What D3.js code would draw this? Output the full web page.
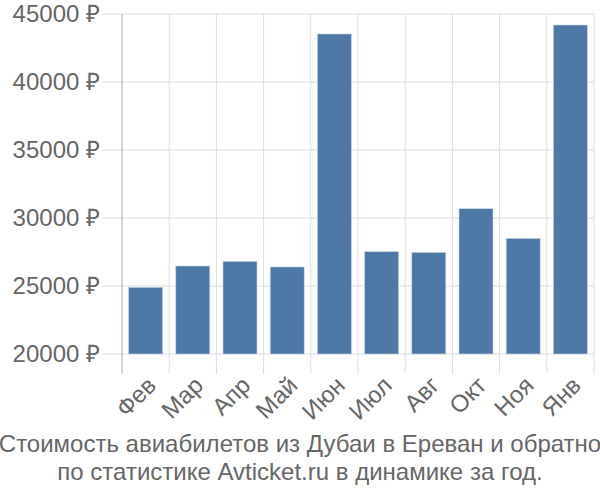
<!DOCTYPE html>
<html>
<head>
<meta charset="utf-8">
<script src="https://cdn.jsdelivr.net/npm/d3@7"></script>
<style>
  body { margin: 0; background: #fff; }
  text { font-family: "Liberation Sans", Arial, sans-serif; fill: #666; }
</style>
</head>
<body>
<div id="chart"></div>
<script>
// data
var months = ["Фев", "Мар", "Апр", "Май", "Июн", "Июл", "Авг", "Окт", "Ноя", "Янв"];
var prices = [24900, 26470, 26810, 26400, 43530, 27520, 27470, 30680, 28500, 44190];
var yTicks = [20000, 25000, 30000, 35000, 40000, 45000];
var titleLines = ["Стоимость авиабилетов из Дубаи в Ереван и обратно",
                  "по статистике Avticket.ru в динамике за год."];

var width = 600, height = 500;
var margin = {top: 14, right: 6, bottom: 146, left: 122};

var svg = d3.select("#chart").append("svg")
    .attr("width", width)
    .attr("height", height);

var x = d3.scaleBand()
    .domain(months)
    .range([margin.left, width - margin.right])
    .paddingInner(0.28)
    .paddingOuter(0.14);

var y = d3.scaleLinear()
    .domain([20000, 45000])
    .range([354, margin.top]);

var step = x.step();
var bounds = months.map(function(m) { return x(m) - x.paddingInner() * step / 2; });
bounds.push(bounds[bounds.length - 1] + step);

// horizontal grid lines (they stick out to the left as ticks)
svg.append("g").selectAll("line")
    .data(yTicks)
    .enter().append("line")
    .attr("x1", 102)
    .attr("x2", width - 5)
    .attr("y1", function(d) { return y(d); })
    .attr("y2", function(d) { return y(d); })
    .attr("stroke", "#ddd")
    .attr("stroke-width", 1);

// vertical grid lines
svg.append("g").selectAll("line")
    .data(bounds.slice(1))
    .enter().append("line")
    .attr("x1", function(d) { return d; })
    .attr("x2", function(d) { return d; })
    .attr("y1", margin.top)
    .attr("y2", 374)
    .attr("stroke", "#ddd")
    .attr("stroke-width", 1);

// bars
svg.append("g").selectAll("rect")
    .data(prices)
    .enter().append("rect")
    .attr("x", function(d, i) { return x(months[i]); })
    .attr("width", x.bandwidth())
    .attr("y", function(d) { return y(d); })
    .attr("height", function(d) { return y(20000) - y(d); })
    .attr("fill", "#4e79a7")
    .attr("stroke", "#c6d3e3")
    .attr("stroke-width", 0.6);

// left axis line
svg.append("line")
    .attr("x1", margin.left).attr("x2", margin.left)
    .attr("y1", margin.top).attr("y2", 374)
    .attr("stroke", "#aaa")
    .attr("stroke-width", 1);

// y tick labels
svg.append("g").selectAll("text")
    .data(yTicks)
    .enter().append("text")
    .attr("x", 100)
    .attr("y", function(d) { return y(d); })
    .attr("dy", "0.35em")
    .attr("text-anchor", "end")
    .style("font-size", "24px")
    .text(function(d) { return d + " ₽"; });

// x tick labels, rotated
svg.append("g").selectAll("text")
    .data(months)
    .enter().append("text")
    .attr("transform", function(d) {
      return "translate(" + (x(d) + x.bandwidth() / 2) + ",375) rotate(-45)";
    })
    .attr("text-anchor", "end")
    .attr("dy", "0.7em")
    .style("font-size", "24px")
    .text(function(d) { return d; });

// title
svg.append("g").selectAll("text")
    .data(titleLines)
    .enter().append("text")
    .attr("x", width / 2)
    .attr("y", function(d, i) { return 452 + i * 28; })
    .attr("text-anchor", "middle")
    .style("font-size", "24px")
    .text(function(d) { return d; });
</script>
</body>
</html>
